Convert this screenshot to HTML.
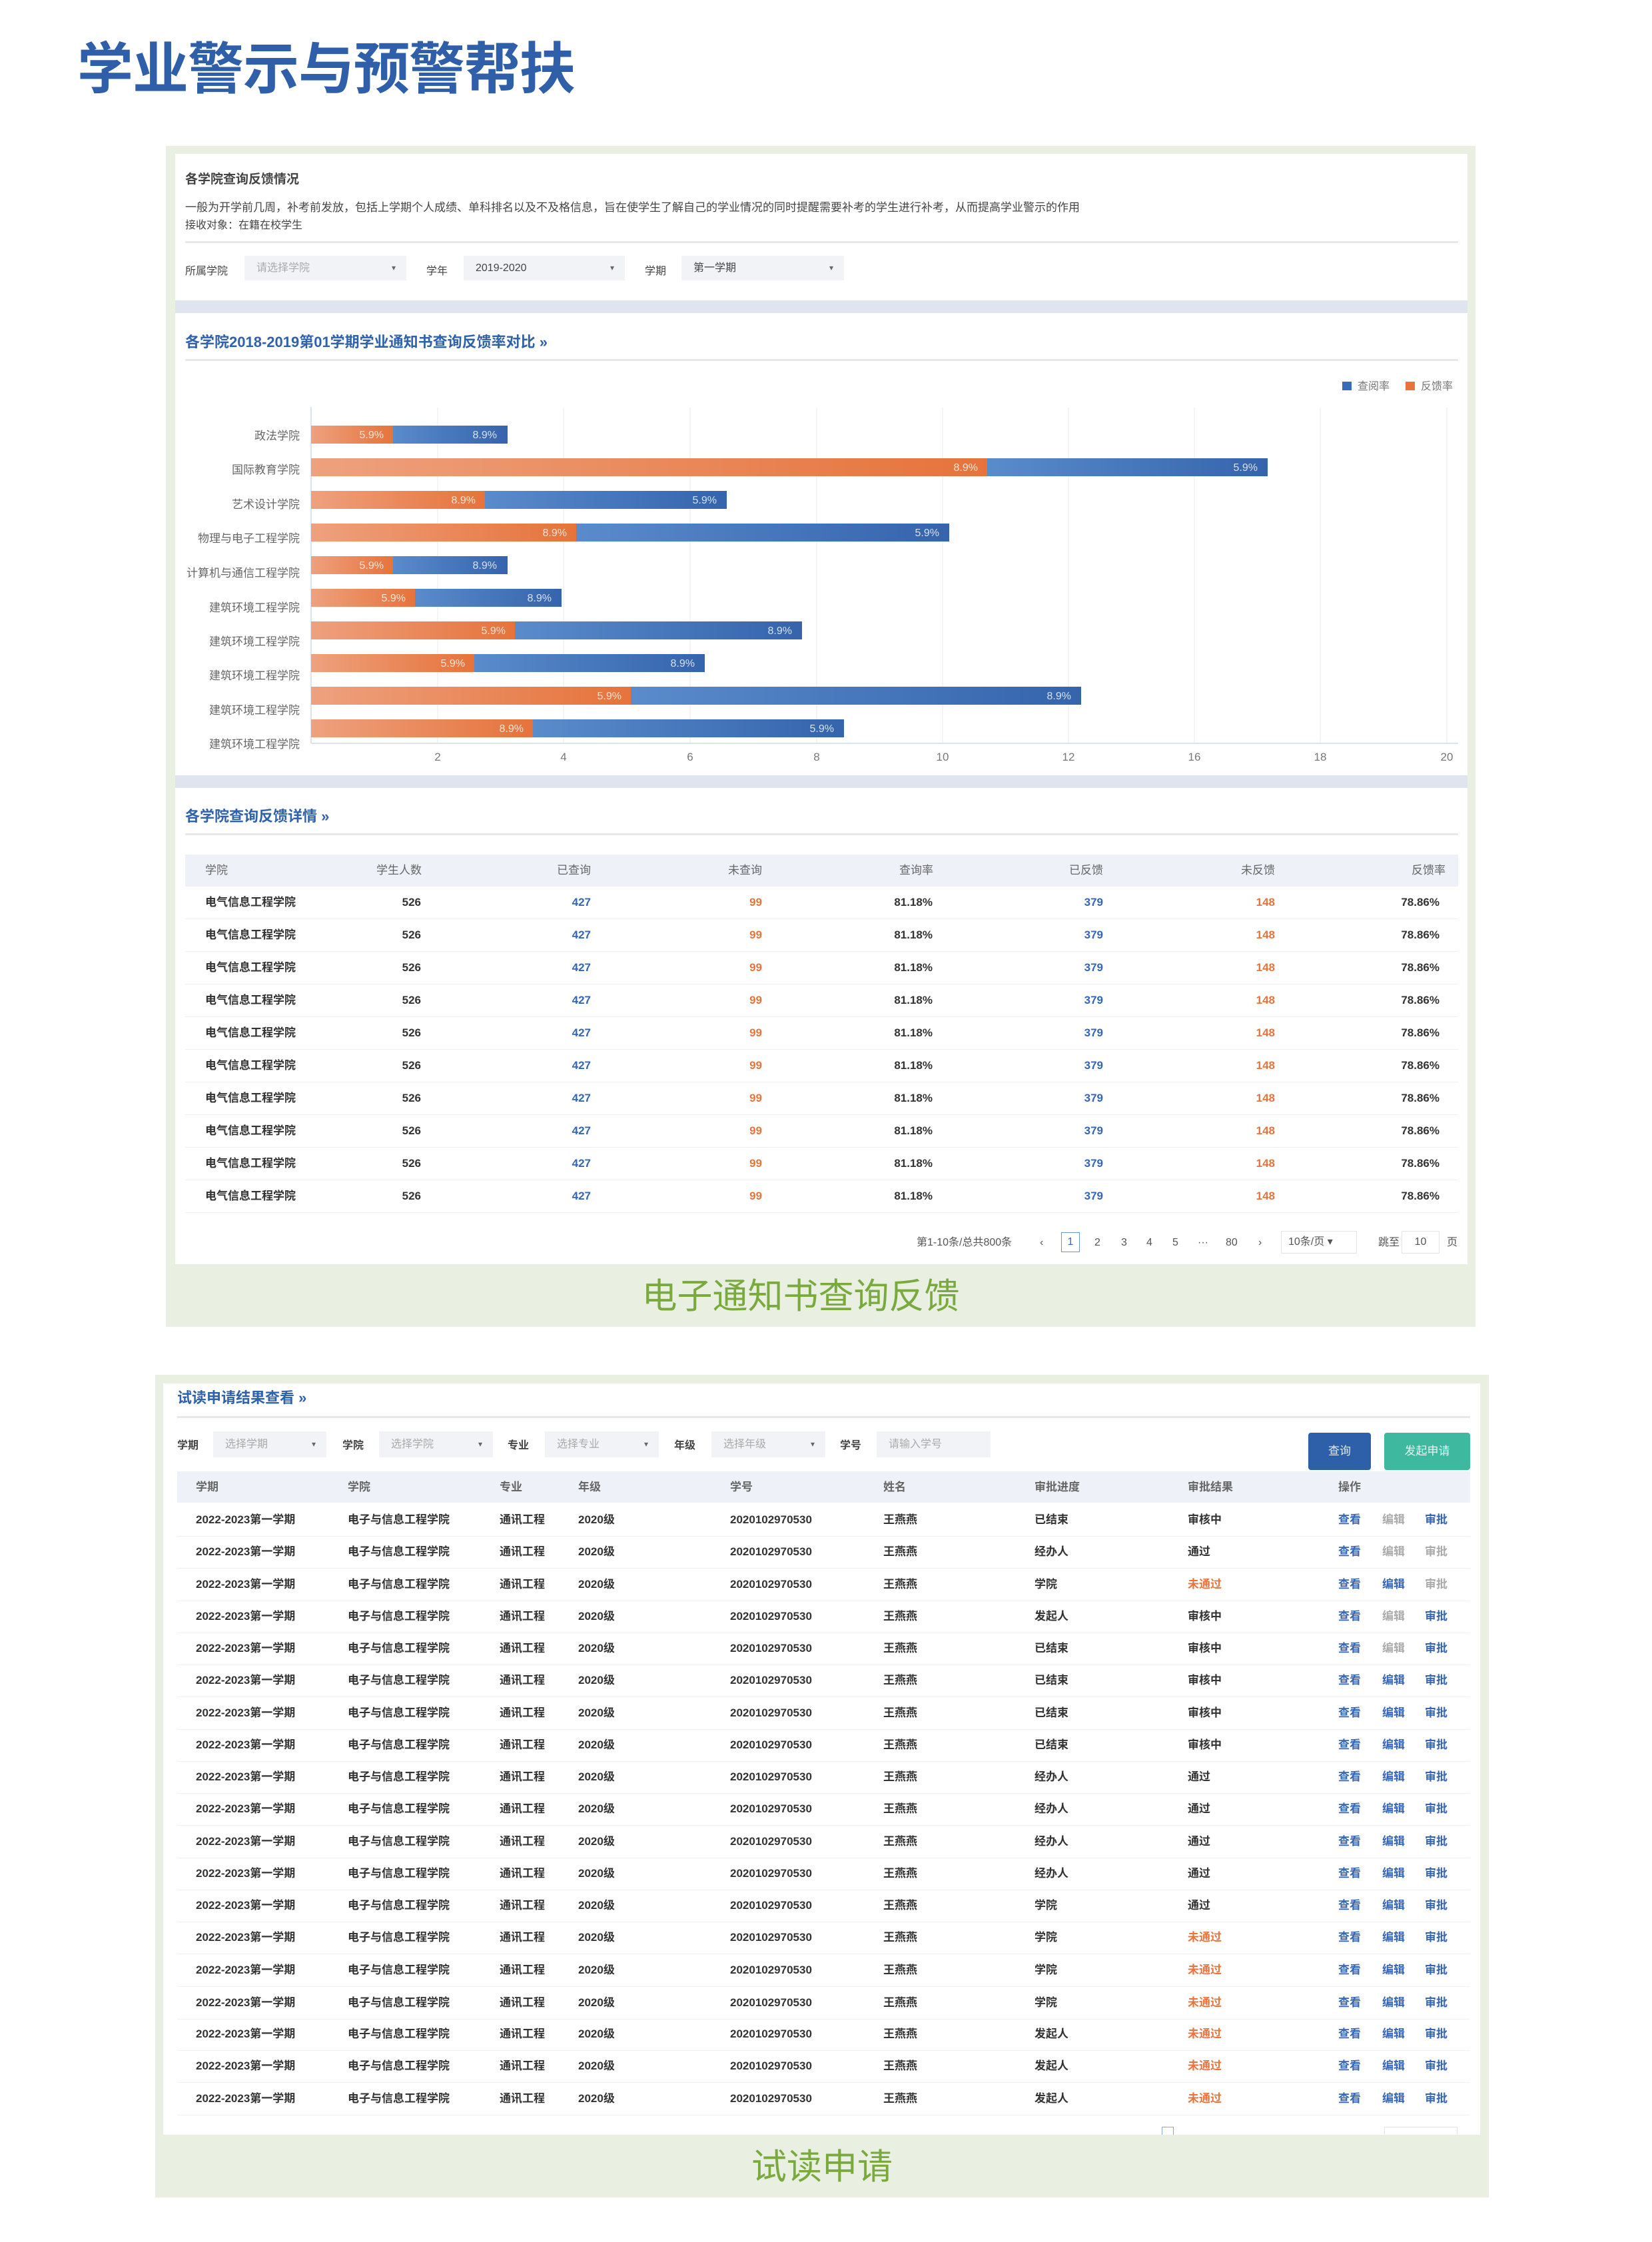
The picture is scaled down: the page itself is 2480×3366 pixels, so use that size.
<!DOCTYPE html>
<html><head><meta charset="utf-8">
<style>
*{margin:0;padding:0;box-sizing:border-box}
body{width:2480px;height:3366px;background:#fff;position:relative;overflow:hidden;font-family:"Liberation Sans","Noto Sans CJK SC",sans-serif;color:#333}
.a{position:absolute;white-space:nowrap}
.box{position:absolute;background:#e9f0e2}
.pn{position:absolute;background:#fff}
.band{position:absolute;background:#dfe4ee}
.hl{position:absolute;height:3px;background:#e6e8ec}
.sel{position:absolute;background:#f1f3f7;height:37px;font-size:16px;line-height:37px;padding-left:18px;color:#444}
.sel i{position:absolute;right:16px;top:0;font-style:normal;font-size:12px;color:#666}
.ttl{position:absolute;font-size:22px;font-weight:bold;color:#2f62ad;white-space:nowrap}
.t2 .a{font-size:17px;font-weight:bold;line-height:20px}
.r{text-align:right}
.b{color:#3565b5}.o{color:#e8743c}.g{color:#aaa}
.t3 .a{font-size:17px;font-weight:bold;line-height:20px;color:#333}
.t3 .a.b{color:#3565b5}.t3 .a.o{color:#e8743c}.t3 .a.g{color:#aaa}
</style></head><body>

<div class="a" style="left:116px;top:56px;font-size:84px;font-weight:bold;color:#2f5fa8;letter-spacing:-1px;line-height:96px">学业警示与预警帮扶</div>

<!-- box 1 -->
<div class="box" style="left:249px;top:219px;width:1966px;height:1773px"></div>
<div class="pn" style="left:263px;top:231px;width:1940px;height:220px"></div>
<div class="band" style="left:263px;top:451px;width:1940px;height:19px"></div>
<div class="pn" style="left:263px;top:470px;width:1940px;height:694px"></div>
<div class="band" style="left:263px;top:1164px;width:1940px;height:19px"></div>
<div class="pn" style="left:263px;top:1183px;width:1940px;height:715px"></div>

<div class="a" style="left:278px;top:254px;font-size:19px;color:#444;font-weight:bold">各学院查询反馈情况</div>
<div class="a" style="left:278px;top:297px;font-size:17px;color:#444">一般为开学前几周，补考前发放，包括上学期个人成绩、单科排名以及不及格信息，旨在使学生了解自己的学业情况的同时提醒需要补考的学生进行补考，从而提高学业警示的作用</div>
<div class="a" style="left:278px;top:324px;font-size:16px;color:#444">接收对象：在籍在校学生</div>
<div class="hl" style="left:278px;top:362px;width:1911px"></div>
<div class="a" style="left:278px;top:393px;font-size:16px;color:#444">所属学院</div>
<div class="sel" style="left:367px;top:384px;width:243px;color:#aaa">请选择学院<i>▾</i></div>
<div class="a" style="left:640px;top:393px;font-size:16px;color:#444">学年</div>
<div class="sel" style="left:696px;top:384px;width:242px">2019-2020<i>▾</i></div>
<div class="a" style="left:968px;top:393px;font-size:16px;color:#444">学期</div>
<div class="sel" style="left:1023px;top:384px;width:244px">第一学期<i>▾</i></div>

<div class="ttl" style="left:278px;top:496px">各学院2018-2019第01学期学业通知书查询反馈率对比 »</div>
<div class="hl" style="left:278px;top:539px;width:1911px"></div>

<svg class="a" style="left:0;top:0" width="2480" height="1200">
<defs>
<linearGradient id="go" x1="0" x2="1"><stop offset="0" stop-color="#eea17e"/><stop offset="1" stop-color="#e6733b"/></linearGradient>
<linearGradient id="gb" x1="0" x2="1"><stop offset="0" stop-color="#5a8bcb"/><stop offset="1" stop-color="#3564ad"/></linearGradient>
</defs>
<rect x="2015" y="573" width="14" height="13" fill="#3a6bb6"/>
<text x="2038" y="585" font-size="16" fill="#777" font-family="Liberation Sans, Noto Sans CJK SC, sans-serif">查阅率</text>
<rect x="2110" y="573" width="14" height="13" fill="#e8743c"/>
<text x="2133" y="585" font-size="16" fill="#777" font-family="Liberation Sans, Noto Sans CJK SC, sans-serif">反馈率</text>
<g stroke="#f0f1f4" stroke-width="1.5">
<line x1="657" y1="612" x2="657" y2="1116"/><line x1="846" y1="612" x2="846" y2="1116"/><line x1="1036" y1="612" x2="1036" y2="1116"/><line x1="1226" y1="612" x2="1226" y2="1116"/><line x1="1415" y1="612" x2="1415" y2="1116"/><line x1="1604" y1="612" x2="1604" y2="1116"/><line x1="1793" y1="612" x2="1793" y2="1116"/><line x1="1982" y1="612" x2="1982" y2="1116"/><line x1="2172" y1="612" x2="2172" y2="1116"/>
</g>
<line x1="467" y1="611" x2="467" y2="1116" stroke="#dde3ee" stroke-width="2"/>
<line x1="467" y1="1116" x2="2189" y2="1116" stroke="#dde3ee" stroke-width="2"/>
<g font-size="17" fill="#777" text-anchor="middle" font-family="Liberation Sans, sans-serif">
<text x="657" y="1142">2</text><text x="846" y="1142">4</text><text x="1036" y="1142">6</text><text x="1226" y="1142">8</text><text x="1415" y="1142">10</text><text x="1604" y="1142">12</text><text x="1793" y="1142">16</text><text x="1982" y="1142">18</text><text x="2172" y="1142">20</text>
</g>
<g font-size="17" fill="#666" text-anchor="end" font-family="Liberation Sans, Noto Sans CJK SC, sans-serif">
<text x="450" y="660">政法学院</text><text x="450" y="711">国际教育学院</text><text x="450" y="763">艺术设计学院</text><text x="450" y="814">物理与电子工程学院</text><text x="450" y="866">计算机与通信工程学院</text><text x="450" y="918">建筑环境工程学院</text><text x="450" y="969">建筑环境工程学院</text><text x="450" y="1020">建筑环境工程学院</text><text x="450" y="1072">建筑环境工程学院</text><text x="450" y="1123">建筑环境工程学院</text>
</g>
<g>
<rect x="467" y="639" width="123" height="27" fill="url(#go)"/><rect x="590" y="639" width="172" height="27" fill="url(#gb)"/>
<rect x="467" y="688" width="1015" height="27" fill="url(#go)"/><rect x="1482" y="688" width="421" height="27" fill="url(#gb)"/>
<rect x="467" y="737" width="261" height="27" fill="url(#go)"/><rect x="728" y="737" width="363" height="27" fill="url(#gb)"/>
<rect x="467" y="786" width="398" height="27" fill="url(#go)"/><rect x="865" y="786" width="560" height="27" fill="url(#gb)"/>
<rect x="467" y="835" width="123" height="27" fill="url(#go)"/><rect x="590" y="835" width="172" height="27" fill="url(#gb)"/>
<rect x="467" y="884" width="156" height="27" fill="url(#go)"/><rect x="623" y="884" width="220" height="27" fill="url(#gb)"/>
<rect x="467" y="933" width="306" height="27" fill="url(#go)"/><rect x="773" y="933" width="431" height="27" fill="url(#gb)"/>
<rect x="467" y="982" width="245" height="27" fill="url(#go)"/><rect x="712" y="982" width="346" height="27" fill="url(#gb)"/>
<rect x="467" y="1031" width="480" height="27" fill="url(#go)"/><rect x="947" y="1031" width="676" height="27" fill="url(#gb)"/>
<rect x="467" y="1080" width="333" height="27" fill="url(#go)"/><rect x="800" y="1080" width="467" height="27" fill="url(#gb)"/>
</g>
<g font-size="16" fill="#fff" fill-opacity="0.8" text-anchor="end" font-family="Liberation Sans, sans-serif">
<text x="576" y="658">5.9%</text><text x="746" y="658">8.9%</text>
<text x="1468" y="707">8.9%</text><text x="1888" y="707">5.9%</text>
<text x="714" y="756">8.9%</text><text x="1076" y="756">5.9%</text>
<text x="851" y="805">8.9%</text><text x="1410" y="805">5.9%</text>
<text x="576" y="854">5.9%</text><text x="746" y="854">8.9%</text>
<text x="609" y="903">5.9%</text><text x="828" y="903">8.9%</text>
<text x="759" y="952">5.9%</text><text x="1189" y="952">8.9%</text>
<text x="698" y="1001">5.9%</text><text x="1043" y="1001">8.9%</text>
<text x="933" y="1050">5.9%</text><text x="1608" y="1050">8.9%</text>
<text x="786" y="1099">8.9%</text><text x="1252" y="1099">5.9%</text>
</g>
</svg>

<div class="ttl" style="left:278px;top:1208px">各学院查询反馈详情 »</div>
<div class="hl" style="left:278px;top:1251px;width:1911px"></div>
<div class="a" style="left:278px;top:1283px;width:1911px;height:48px;background:#eef2f8"></div>

<div class="t2">
<div class="a" style="left:308px;top:1297px;color:#666;font-weight:normal">学院</div>
<div class="a r" style="right:1847px;top:1297px;color:#666;font-weight:normal">学生人数</div>
<div class="a r" style="right:1593px;top:1297px;color:#666;font-weight:normal">已查询</div>
<div class="a r" style="right:1336px;top:1297px;color:#666;font-weight:normal">未查询</div>
<div class="a r" style="right:1079px;top:1297px;color:#666;font-weight:normal">查询率</div>
<div class="a r" style="right:824px;top:1297px;color:#666;font-weight:normal">已反馈</div>
<div class="a r" style="right:566px;top:1297px;color:#666;font-weight:normal">未反馈</div>
<div class="a r" style="right:310px;top:1297px;color:#666;font-weight:normal">反馈率</div>
</div>

<div class="t2" style="position:absolute;left:0;top:1345px;width:2480px">
<div style="position:absolute;left:0;top:0;width:2480px;height:20px"><div class="a" style="left:308px">电气信息工程学院</div><div class="a" style="right:1848px">526</div><div class="a b" style="right:1593px">427</div><div class="a o" style="right:1336px">99</div><div class="a" style="right:1080px">81.18%</div><div class="a b" style="right:824px">379</div><div class="a o" style="right:566px">148</div><div class="a" style="right:319px">78.86%</div></div>
<div style="position:absolute;left:0;top:49px;width:2480px;height:20px"><div class="a" style="left:308px">电气信息工程学院</div><div class="a" style="right:1848px">526</div><div class="a b" style="right:1593px">427</div><div class="a o" style="right:1336px">99</div><div class="a" style="right:1080px">81.18%</div><div class="a b" style="right:824px">379</div><div class="a o" style="right:566px">148</div><div class="a" style="right:319px">78.86%</div></div>
<div style="position:absolute;left:0;top:98px;width:2480px;height:20px"><div class="a" style="left:308px">电气信息工程学院</div><div class="a" style="right:1848px">526</div><div class="a b" style="right:1593px">427</div><div class="a o" style="right:1336px">99</div><div class="a" style="right:1080px">81.18%</div><div class="a b" style="right:824px">379</div><div class="a o" style="right:566px">148</div><div class="a" style="right:319px">78.86%</div></div>
<div style="position:absolute;left:0;top:147px;width:2480px;height:20px"><div class="a" style="left:308px">电气信息工程学院</div><div class="a" style="right:1848px">526</div><div class="a b" style="right:1593px">427</div><div class="a o" style="right:1336px">99</div><div class="a" style="right:1080px">81.18%</div><div class="a b" style="right:824px">379</div><div class="a o" style="right:566px">148</div><div class="a" style="right:319px">78.86%</div></div>
<div style="position:absolute;left:0;top:196px;width:2480px;height:20px"><div class="a" style="left:308px">电气信息工程学院</div><div class="a" style="right:1848px">526</div><div class="a b" style="right:1593px">427</div><div class="a o" style="right:1336px">99</div><div class="a" style="right:1080px">81.18%</div><div class="a b" style="right:824px">379</div><div class="a o" style="right:566px">148</div><div class="a" style="right:319px">78.86%</div></div>
<div style="position:absolute;left:0;top:245px;width:2480px;height:20px"><div class="a" style="left:308px">电气信息工程学院</div><div class="a" style="right:1848px">526</div><div class="a b" style="right:1593px">427</div><div class="a o" style="right:1336px">99</div><div class="a" style="right:1080px">81.18%</div><div class="a b" style="right:824px">379</div><div class="a o" style="right:566px">148</div><div class="a" style="right:319px">78.86%</div></div>
<div style="position:absolute;left:0;top:294px;width:2480px;height:20px"><div class="a" style="left:308px">电气信息工程学院</div><div class="a" style="right:1848px">526</div><div class="a b" style="right:1593px">427</div><div class="a o" style="right:1336px">99</div><div class="a" style="right:1080px">81.18%</div><div class="a b" style="right:824px">379</div><div class="a o" style="right:566px">148</div><div class="a" style="right:319px">78.86%</div></div>
<div style="position:absolute;left:0;top:343px;width:2480px;height:20px"><div class="a" style="left:308px">电气信息工程学院</div><div class="a" style="right:1848px">526</div><div class="a b" style="right:1593px">427</div><div class="a o" style="right:1336px">99</div><div class="a" style="right:1080px">81.18%</div><div class="a b" style="right:824px">379</div><div class="a o" style="right:566px">148</div><div class="a" style="right:319px">78.86%</div></div>
<div style="position:absolute;left:0;top:392px;width:2480px;height:20px"><div class="a" style="left:308px">电气信息工程学院</div><div class="a" style="right:1848px">526</div><div class="a b" style="right:1593px">427</div><div class="a o" style="right:1336px">99</div><div class="a" style="right:1080px">81.18%</div><div class="a b" style="right:824px">379</div><div class="a o" style="right:566px">148</div><div class="a" style="right:319px">78.86%</div></div>
<div style="position:absolute;left:0;top:441px;width:2480px;height:20px"><div class="a" style="left:308px">电气信息工程学院</div><div class="a" style="right:1848px">526</div><div class="a b" style="right:1593px">427</div><div class="a o" style="right:1336px">99</div><div class="a" style="right:1080px">81.18%</div><div class="a b" style="right:824px">379</div><div class="a o" style="right:566px">148</div><div class="a" style="right:319px">78.86%</div></div>
</div>
<div class="a" style="left:278px;top:1379px;width:1911px;height:1px;background:#f0f1f4;box-shadow:0 49px 0 #f0f1f4,0 98px 0 #f0f1f4,0 147px 0 #f0f1f4,0 196px 0 #f0f1f4,0 245px 0 #f0f1f4,0 294px 0 #f0f1f4,0 343px 0 #f0f1f4,0 392px 0 #f0f1f4,0 441px 0 #f0f1f4"></div>

<!-- pagination -->
<div style="position:absolute;left:0;top:1856px;width:2480px;font-size:16px;color:#555;line-height:20px">
<div class="a" style="left:1376px">第1-10条/总共800条</div>
<div class="a" style="left:1561px">‹</div>
<div class="a" style="left:1593px;top:-6px;width:28px;height:30px;border:1.5px solid #6f93cc;color:#3565b5;text-align:center;line-height:27px">1</div>
<div class="a" style="left:1643px">2</div><div class="a" style="left:1683px">3</div><div class="a" style="left:1721px">4</div><div class="a" style="left:1760px">5</div><div class="a" style="left:1798px">···</div><div class="a" style="left:1840px">80</div><div class="a" style="left:1889px">›</div>
<div class="a" style="left:1923px;top:-8px;width:114px;height:34px;border:1px solid #e2e4e8;line-height:32px;padding-left:10px">10条/页 ▾</div>
<div class="a" style="left:2069px">跳至</div>
<div class="a" style="left:2104px;top:-8px;width:57px;height:34px;border:1px solid #e2e4e8;line-height:32px;text-align:center">10</div>
<div class="a" style="left:2172px">页</div>
</div>

<div class="a" style="left:0;width:2404px;top:1915px;text-align:center;font-size:53px;color:#7aaa3e;line-height:64px">电子通知书查询反馈</div>

<!-- box 2 -->
<div class="box" style="left:233px;top:2064px;width:2002px;height:1235px"></div>
<div class="pn" style="left:245px;top:2077px;width:1977px;height:1128px"></div>
<div class="ttl" style="left:266px;top:2081px">试读申请结果查看 »</div>
<div class="hl" style="left:266px;top:2126px;width:1941px"></div>

<div class="a" style="left:266px;top:2156px;font-size:16px;font-weight:bold;color:#444">学期</div>
<div class="sel" style="left:320px;top:2149px;width:170px;color:#aaa;height:39px;line-height:39px">选择学期<i>▾</i></div>
<div class="a" style="left:514px;top:2156px;font-size:16px;font-weight:bold;color:#444">学院</div>
<div class="sel" style="left:569px;top:2149px;width:171px;color:#aaa;height:39px;line-height:39px">选择学院<i>▾</i></div>
<div class="a" style="left:762px;top:2156px;font-size:16px;font-weight:bold;color:#444">专业</div>
<div class="sel" style="left:818px;top:2149px;width:171px;color:#aaa;height:39px;line-height:39px">选择专业<i>▾</i></div>
<div class="a" style="left:1012px;top:2156px;font-size:16px;font-weight:bold;color:#444">年级</div>
<div class="sel" style="left:1068px;top:2149px;width:171px;color:#aaa;height:39px;line-height:39px">选择年级<i>▾</i></div>
<div class="a" style="left:1261px;top:2156px;font-size:16px;font-weight:bold;color:#444">学号</div>
<div class="sel" style="left:1316px;top:2149px;width:171px;color:#aaa;height:39px;line-height:39px">请输入学号</div>
<div class="a" style="left:1964px;top:2151px;width:94px;height:56px;background:#2e60aa;border-radius:4px;color:#dfe8f5;font-size:17px;text-align:center;line-height:56px">查询</div>
<div class="a" style="left:2078px;top:2151px;width:129px;height:56px;background:#3fb8a0;border-radius:4px;color:#e3f6f1;font-size:17px;text-align:center;line-height:56px">发起申请</div>

<div class="a" style="left:266px;top:2209px;width:1941px;height:47px;background:#eef2f8"></div>
<div class="t3" style="position:absolute;left:0;top:2223px;width:2480px">
<div class="a" style="left:294px;color:#666">学期</div><div class="a" style="left:522px;color:#666">学院</div><div class="a" style="left:750px;color:#666">专业</div><div class="a" style="left:868px;color:#666">年级</div><div class="a" style="left:1096px;color:#666">学号</div><div class="a" style="left:1326px;color:#666">姓名</div><div class="a" style="left:1553px;color:#666">审批进度</div><div class="a" style="left:1783px;color:#666">审批结果</div><div class="a" style="left:2009px;color:#666">操作</div>
</div>

<div class="t3" id="rows">
<div style="position:absolute;left:0;top:2272px;width:2480px"><div class="a" style="left:294px">2022-2023第一学期</div><div class="a" style="left:522px">电子与信息工程学院</div><div class="a" style="left:750px">通讯工程</div><div class="a" style="left:868px">2020级</div><div class="a" style="left:1096px">2020102970530</div><div class="a" style="left:1326px">王燕燕</div><div class="a" style="left:1553px">已结束</div><div class="a" style="left:1783px">审核中</div><div class="a b" style="left:2009px">查看</div><div class="a g" style="left:2075px">编辑</div><div class="a b" style="left:2139px">审批</div></div>
<div style="position:absolute;left:0;top:2320px;width:2480px"><div class="a" style="left:294px">2022-2023第一学期</div><div class="a" style="left:522px">电子与信息工程学院</div><div class="a" style="left:750px">通讯工程</div><div class="a" style="left:868px">2020级</div><div class="a" style="left:1096px">2020102970530</div><div class="a" style="left:1326px">王燕燕</div><div class="a" style="left:1553px">经办人</div><div class="a" style="left:1783px">通过</div><div class="a b" style="left:2009px">查看</div><div class="a g" style="left:2075px">编辑</div><div class="a g" style="left:2139px">审批</div></div>
<div style="position:absolute;left:0;top:2369px;width:2480px"><div class="a" style="left:294px">2022-2023第一学期</div><div class="a" style="left:522px">电子与信息工程学院</div><div class="a" style="left:750px">通讯工程</div><div class="a" style="left:868px">2020级</div><div class="a" style="left:1096px">2020102970530</div><div class="a" style="left:1326px">王燕燕</div><div class="a" style="left:1553px">学院</div><div class="a o" style="left:1783px">未通过</div><div class="a b" style="left:2009px">查看</div><div class="a b" style="left:2075px">编辑</div><div class="a g" style="left:2139px">审批</div></div>
<div style="position:absolute;left:0;top:2417px;width:2480px"><div class="a" style="left:294px">2022-2023第一学期</div><div class="a" style="left:522px">电子与信息工程学院</div><div class="a" style="left:750px">通讯工程</div><div class="a" style="left:868px">2020级</div><div class="a" style="left:1096px">2020102970530</div><div class="a" style="left:1326px">王燕燕</div><div class="a" style="left:1553px">发起人</div><div class="a" style="left:1783px">审核中</div><div class="a b" style="left:2009px">查看</div><div class="a g" style="left:2075px">编辑</div><div class="a b" style="left:2139px">审批</div></div>
<div style="position:absolute;left:0;top:2465px;width:2480px"><div class="a" style="left:294px">2022-2023第一学期</div><div class="a" style="left:522px">电子与信息工程学院</div><div class="a" style="left:750px">通讯工程</div><div class="a" style="left:868px">2020级</div><div class="a" style="left:1096px">2020102970530</div><div class="a" style="left:1326px">王燕燕</div><div class="a" style="left:1553px">已结束</div><div class="a" style="left:1783px">审核中</div><div class="a b" style="left:2009px">查看</div><div class="a g" style="left:2075px">编辑</div><div class="a b" style="left:2139px">审批</div></div>
<div style="position:absolute;left:0;top:2513px;width:2480px"><div class="a" style="left:294px">2022-2023第一学期</div><div class="a" style="left:522px">电子与信息工程学院</div><div class="a" style="left:750px">通讯工程</div><div class="a" style="left:868px">2020级</div><div class="a" style="left:1096px">2020102970530</div><div class="a" style="left:1326px">王燕燕</div><div class="a" style="left:1553px">已结束</div><div class="a" style="left:1783px">审核中</div><div class="a b" style="left:2009px">查看</div><div class="a b" style="left:2075px">编辑</div><div class="a b" style="left:2139px">审批</div></div>
<div style="position:absolute;left:0;top:2562px;width:2480px"><div class="a" style="left:294px">2022-2023第一学期</div><div class="a" style="left:522px">电子与信息工程学院</div><div class="a" style="left:750px">通讯工程</div><div class="a" style="left:868px">2020级</div><div class="a" style="left:1096px">2020102970530</div><div class="a" style="left:1326px">王燕燕</div><div class="a" style="left:1553px">已结束</div><div class="a" style="left:1783px">审核中</div><div class="a b" style="left:2009px">查看</div><div class="a b" style="left:2075px">编辑</div><div class="a b" style="left:2139px">审批</div></div>
<div style="position:absolute;left:0;top:2610px;width:2480px"><div class="a" style="left:294px">2022-2023第一学期</div><div class="a" style="left:522px">电子与信息工程学院</div><div class="a" style="left:750px">通讯工程</div><div class="a" style="left:868px">2020级</div><div class="a" style="left:1096px">2020102970530</div><div class="a" style="left:1326px">王燕燕</div><div class="a" style="left:1553px">已结束</div><div class="a" style="left:1783px">审核中</div><div class="a b" style="left:2009px">查看</div><div class="a b" style="left:2075px">编辑</div><div class="a b" style="left:2139px">审批</div></div>
<div style="position:absolute;left:0;top:2658px;width:2480px"><div class="a" style="left:294px">2022-2023第一学期</div><div class="a" style="left:522px">电子与信息工程学院</div><div class="a" style="left:750px">通讯工程</div><div class="a" style="left:868px">2020级</div><div class="a" style="left:1096px">2020102970530</div><div class="a" style="left:1326px">王燕燕</div><div class="a" style="left:1553px">经办人</div><div class="a" style="left:1783px">通过</div><div class="a b" style="left:2009px">查看</div><div class="a b" style="left:2075px">编辑</div><div class="a b" style="left:2139px">审批</div></div>
<div style="position:absolute;left:0;top:2706px;width:2480px"><div class="a" style="left:294px">2022-2023第一学期</div><div class="a" style="left:522px">电子与信息工程学院</div><div class="a" style="left:750px">通讯工程</div><div class="a" style="left:868px">2020级</div><div class="a" style="left:1096px">2020102970530</div><div class="a" style="left:1326px">王燕燕</div><div class="a" style="left:1553px">经办人</div><div class="a" style="left:1783px">通过</div><div class="a b" style="left:2009px">查看</div><div class="a b" style="left:2075px">编辑</div><div class="a b" style="left:2139px">审批</div></div>
<div style="position:absolute;left:0;top:2755px;width:2480px"><div class="a" style="left:294px">2022-2023第一学期</div><div class="a" style="left:522px">电子与信息工程学院</div><div class="a" style="left:750px">通讯工程</div><div class="a" style="left:868px">2020级</div><div class="a" style="left:1096px">2020102970530</div><div class="a" style="left:1326px">王燕燕</div><div class="a" style="left:1553px">经办人</div><div class="a" style="left:1783px">通过</div><div class="a b" style="left:2009px">查看</div><div class="a b" style="left:2075px">编辑</div><div class="a b" style="left:2139px">审批</div></div>
<div style="position:absolute;left:0;top:2803px;width:2480px"><div class="a" style="left:294px">2022-2023第一学期</div><div class="a" style="left:522px">电子与信息工程学院</div><div class="a" style="left:750px">通讯工程</div><div class="a" style="left:868px">2020级</div><div class="a" style="left:1096px">2020102970530</div><div class="a" style="left:1326px">王燕燕</div><div class="a" style="left:1553px">经办人</div><div class="a" style="left:1783px">通过</div><div class="a b" style="left:2009px">查看</div><div class="a b" style="left:2075px">编辑</div><div class="a b" style="left:2139px">审批</div></div>
<div style="position:absolute;left:0;top:2851px;width:2480px"><div class="a" style="left:294px">2022-2023第一学期</div><div class="a" style="left:522px">电子与信息工程学院</div><div class="a" style="left:750px">通讯工程</div><div class="a" style="left:868px">2020级</div><div class="a" style="left:1096px">2020102970530</div><div class="a" style="left:1326px">王燕燕</div><div class="a" style="left:1553px">学院</div><div class="a" style="left:1783px">通过</div><div class="a b" style="left:2009px">查看</div><div class="a b" style="left:2075px">编辑</div><div class="a b" style="left:2139px">审批</div></div>
<div style="position:absolute;left:0;top:2899px;width:2480px"><div class="a" style="left:294px">2022-2023第一学期</div><div class="a" style="left:522px">电子与信息工程学院</div><div class="a" style="left:750px">通讯工程</div><div class="a" style="left:868px">2020级</div><div class="a" style="left:1096px">2020102970530</div><div class="a" style="left:1326px">王燕燕</div><div class="a" style="left:1553px">学院</div><div class="a o" style="left:1783px">未通过</div><div class="a b" style="left:2009px">查看</div><div class="a b" style="left:2075px">编辑</div><div class="a b" style="left:2139px">审批</div></div>
<div style="position:absolute;left:0;top:2948px;width:2480px"><div class="a" style="left:294px">2022-2023第一学期</div><div class="a" style="left:522px">电子与信息工程学院</div><div class="a" style="left:750px">通讯工程</div><div class="a" style="left:868px">2020级</div><div class="a" style="left:1096px">2020102970530</div><div class="a" style="left:1326px">王燕燕</div><div class="a" style="left:1553px">学院</div><div class="a o" style="left:1783px">未通过</div><div class="a b" style="left:2009px">查看</div><div class="a b" style="left:2075px">编辑</div><div class="a b" style="left:2139px">审批</div></div>
<div style="position:absolute;left:0;top:2997px;width:2480px"><div class="a" style="left:294px">2022-2023第一学期</div><div class="a" style="left:522px">电子与信息工程学院</div><div class="a" style="left:750px">通讯工程</div><div class="a" style="left:868px">2020级</div><div class="a" style="left:1096px">2020102970530</div><div class="a" style="left:1326px">王燕燕</div><div class="a" style="left:1553px">学院</div><div class="a o" style="left:1783px">未通过</div><div class="a b" style="left:2009px">查看</div><div class="a b" style="left:2075px">编辑</div><div class="a b" style="left:2139px">审批</div></div>
<div style="position:absolute;left:0;top:3044px;width:2480px"><div class="a" style="left:294px">2022-2023第一学期</div><div class="a" style="left:522px">电子与信息工程学院</div><div class="a" style="left:750px">通讯工程</div><div class="a" style="left:868px">2020级</div><div class="a" style="left:1096px">2020102970530</div><div class="a" style="left:1326px">王燕燕</div><div class="a" style="left:1553px">发起人</div><div class="a o" style="left:1783px">未通过</div><div class="a b" style="left:2009px">查看</div><div class="a b" style="left:2075px">编辑</div><div class="a b" style="left:2139px">审批</div></div>
<div style="position:absolute;left:0;top:3092px;width:2480px"><div class="a" style="left:294px">2022-2023第一学期</div><div class="a" style="left:522px">电子与信息工程学院</div><div class="a" style="left:750px">通讯工程</div><div class="a" style="left:868px">2020级</div><div class="a" style="left:1096px">2020102970530</div><div class="a" style="left:1326px">王燕燕</div><div class="a" style="left:1553px">发起人</div><div class="a o" style="left:1783px">未通过</div><div class="a b" style="left:2009px">查看</div><div class="a b" style="left:2075px">编辑</div><div class="a b" style="left:2139px">审批</div></div>
<div style="position:absolute;left:0;top:3141px;width:2480px"><div class="a" style="left:294px">2022-2023第一学期</div><div class="a" style="left:522px">电子与信息工程学院</div><div class="a" style="left:750px">通讯工程</div><div class="a" style="left:868px">2020级</div><div class="a" style="left:1096px">2020102970530</div><div class="a" style="left:1326px">王燕燕</div><div class="a" style="left:1553px">发起人</div><div class="a o" style="left:1783px">未通过</div><div class="a b" style="left:2009px">查看</div><div class="a b" style="left:2075px">编辑</div><div class="a b" style="left:2139px">审批</div></div>
</div>
<div class="a" style="left:266px;top:2306px;width:1941px;height:1px;background:#f0f1f4;box-shadow:0 48px 0 #f0f1f4,0 97px 0 #f0f1f4,0 145px 0 #f0f1f4,0 193px 0 #f0f1f4,0 241px 0 #f0f1f4,0 290px 0 #f0f1f4,0 338px 0 #f0f1f4,0 386px 0 #f0f1f4,0 434px 0 #f0f1f4,0 483px 0 #f0f1f4,0 531px 0 #f0f1f4,0 579px 0 #f0f1f4,0 627px 0 #f0f1f4,0 676px 0 #f0f1f4,0 725px 0 #f0f1f4,0 772px 0 #f0f1f4,0 820px 0 #f0f1f4,0 869px 0 #f0f1f4"></div>

<div class="a" style="left:2078px;top:3193px;width:110px;height:12px;border:1px solid #e2e4e8;border-bottom:none"></div>
<div class="a" style="left:1744px;top:3193px;width:18px;height:12px;border:1px solid #8aa6d6;border-bottom:none"></div>

<div class="a" style="left:0;width:2468px;top:3222px;text-align:center;font-size:53px;color:#7aaa3e;line-height:64px">试读申请</div>
</body></html>
